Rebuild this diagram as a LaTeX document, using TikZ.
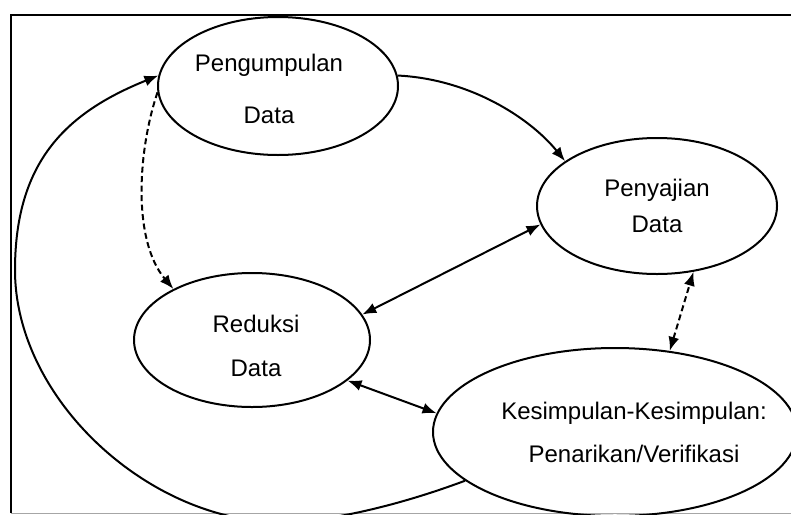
\documentclass[tikz,border=0pt]{standalone}
\usepackage{fontspec}
\setmainfont{Liberation Sans}
\usetikzlibrary{shapes.geometric,arrows.meta}
\begin{document}
\begin{tikzpicture}[x=1pt,y=-1pt,
  ell/.style={draw, ellipse, line width=2pt, inner sep=0pt},
  txt/.style={align=center, font=\fontsize{24}{29}\selectfont, inner sep=0pt},
  arr/.style={-{Latex[length=14pt,width=11pt]}, line width=2pt},
  darr/.style={{Latex[length=14pt,width=11pt]}-{Latex[length=14pt,width=11pt]}, line width=2pt},
  dsh/.style={dash pattern=on 6pt off 3.5pt}]
\useasboundingbox (0,0) rectangle (791,514);
\fill[white] (0,0) rectangle (791,514);
% frame
\draw[line width=1.5pt] (11,513) -- (11,15) -- (800,15);
\draw[line width=1pt, black!35] (11,513) -- (800,513);
% ellipses
\node[ell, minimum width=240pt, minimum height=138pt] (P) at (278,86) {};
\node[ell, minimum width=240pt, minimum height=136pt] (S) at (657,206) {};
\node[ell, minimum width=236pt, minimum height=134pt] (R) at (252,340) {};
\node[ell, minimum width=364pt, minimum height=168pt] (K) at (615,432) {};
% texts
\node[txt] (Pt) at (269,89) {Pengumpulan\\[23pt]Data};
\node[txt] (St) at (657,206) {Penyajian\\[7pt]Data};
\node[txt] (Rt) at (256,346) {Reduksi\\[15pt]Data};
\node[txt] (Kt) at (634,432) {Kesimpulan-Kesimpulan:\\[14pt]Penarikan/Verifikasi};
% connectors
\draw[arr] (P.5) .. controls (470,79) and (530,118) .. (S.154);
\draw[darr] (S.189) -- (R.13);
\draw[arr, dsh] (P.183) .. controls (138,150) and (132,240) .. (R.147);
\draw[darr, dsh] (K.56) -- (S.299);
\draw[darr] (R.337) -- (K.174);
\coordinate (B) at (280,522);
\coordinate (L) at (15,270);
\draw[arr] (K.198) .. controls (400,505) and (330,522) .. (B)
  .. controls (150,522) and (15,400) .. (L)
  .. controls (15,160) and (68,112) .. (P.175);
\end{tikzpicture}
\end{document}
